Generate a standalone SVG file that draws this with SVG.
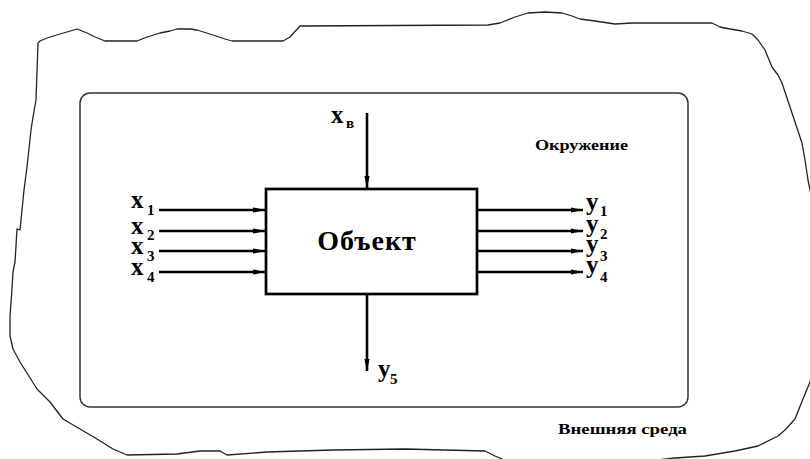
<svg xmlns="http://www.w3.org/2000/svg" width="810" height="459" viewBox="0 0 810 459">
<style>
.blob{fill:none;stroke:#222;stroke-width:1.3;stroke-linejoin:round}
.env{fill:none;stroke:#333;stroke-width:1.5}
.box{fill:#fff;stroke:#000;stroke-width:2.7}
.conn{stroke:#000;stroke-width:2.6;fill:none}
text{font-family:'Liberation Serif','Times New Roman',serif;font-weight:700;fill:#000}
.lbl{font-size:25px}
.sub{font-size:15px}
.cap{font-size:15px}
</style>
<defs>
<marker id="ah" markerUnits="userSpaceOnUse" markerWidth="14" markerHeight="10" refX="12" refY="5" orient="auto">
<path d="M0,2.4 L12,5 L0,7.6 Z" fill="#000"/>
</marker>
</defs>
<rect width="810" height="459" fill="#fff"/>
<g id="external-environment">
<path class="blob" d="M38,43 L40,41 L47,38 L50,37 L60,34 L67,32 L77,29 L87,33 L95,37 L105,41 L137,41 L147,37 L160,33 L170,31 L177,29 L190,29 L197,30 L213,35 L225,39 L232,41 L283,41 L290,37 L300,26 L488,25 L500,23 L505,21 L515,17 L528,13 L545,12 L562,13 L572,16 L580,19 L595,21 L615,24 L632,23 L712,23 L720,27 L730,29 L742,31 L752,34 L758,40 L765,50 L772,67 L778,75 L782,83 L786,95 L792,113 L797,128 L802,143 L805,160 L808,180 L814,210 L816,300 L813,370 L810,382 L803,399 L795,419 L785,430 L778,436 L758,446 L735,451 L705,456 L675,458 L600,466 L510,466 L502,459 L495,456 L485,451 L405,449 L333,450 L267,452 L227,455 L220,451 L200,451 L177,454 L127,455 L113,449 L97,439 L80,429 L63,419 L50,402 L37,389 L20,362 L13,349 L10,336 L10,316 L12,289 L13,272 L15,262 L17,229 L20,230 L24,190 L27,167 L31,130 L33,117 L36,100 L38,43 Z"/>
<text class="cap" x="558" y="434" textLength="129" lengthAdjust="spacingAndGlyphs">Внешняя среда</text>
</g>
<g id="surroundings">
<rect class="env" x="80" y="93" width="608" height="314" rx="10" ry="10"/>
<text class="cap" x="535" y="150" textLength="93" lengthAdjust="spacingAndGlyphs">Окружение</text>
</g>
<g id="object">
<rect class="box" x="266" y="189" width="211" height="105"/>
<text x="367" y="250" font-size="28" text-anchor="middle" letter-spacing="1">Объект</text>
</g>
<g id="connectors">
<line class="conn" x1="159" y1="210" x2="265" y2="210" marker-end="url(#ah)"/>
<line class="conn" x1="159" y1="231" x2="265" y2="231" marker-end="url(#ah)"/>
<line class="conn" x1="159" y1="251" x2="265" y2="251" marker-end="url(#ah)"/>
<line class="conn" x1="159" y1="272" x2="265" y2="272" marker-end="url(#ah)"/>
<line class="conn" x1="477" y1="210" x2="583" y2="210" marker-end="url(#ah)"/>
<line class="conn" x1="477" y1="231" x2="583" y2="231" marker-end="url(#ah)"/>
<line class="conn" x1="477" y1="251" x2="583" y2="251" marker-end="url(#ah)"/>
<line class="conn" x1="477" y1="272" x2="583" y2="272" marker-end="url(#ah)"/>
<line class="conn" x1="367" y1="113" x2="367" y2="188" marker-end="url(#ah)"/>
<line class="conn" x1="367" y1="295" x2="367" y2="371" marker-end="url(#ah)"/>
</g>
<g id="labels">
<text class="lbl" x="131" y="208">x<tspan class="sub" x="147" y="215">1</tspan></text>
<text class="lbl" x="131" y="234">x<tspan class="sub" x="147" y="240">2</tspan></text>
<text class="lbl" x="131" y="254">x<tspan class="sub" x="147" y="261">3</tspan></text>
<text class="lbl" x="131" y="275">x<tspan class="sub" x="147" y="282">4</tspan></text>
<text class="lbl" x="331" y="123">x<tspan class="sub" x="346" y="128">в</tspan></text>
<text class="lbl" x="586" y="210">y<tspan class="sub" x="600" y="216">1</tspan></text>
<text class="lbl" x="586" y="232">y<tspan class="sub" x="600" y="239">2</tspan></text>
<text class="lbl" x="586" y="252">y<tspan class="sub" x="600" y="261">3</tspan></text>
<text class="lbl" x="586" y="273">y<tspan class="sub" x="600" y="282">4</tspan></text>
<text class="lbl" x="378" y="377">y<tspan class="sub" x="390" y="384">5</tspan></text>
</g>
</svg>
